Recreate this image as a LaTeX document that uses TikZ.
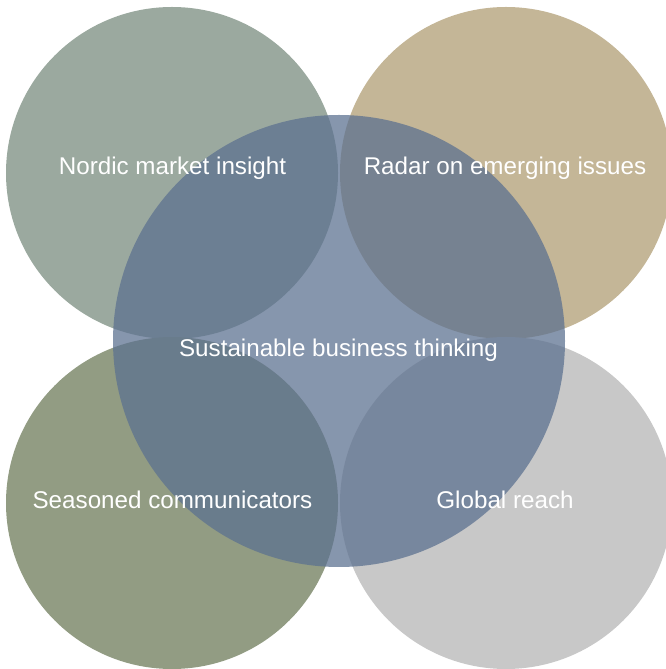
\documentclass[tikz,border=0pt]{standalone}
\usepackage{fontspec}
\setmainfont{Liberation Sans}
\definecolor{cTL}{HTML}{9BA99F}
\definecolor{cTR}{HTML}{C4B697}
\definecolor{cBL}{HTML}{929C83}
\definecolor{cBR}{HTML}{C8C8C8}
\definecolor{cMid}{HTML}{5C7190}
\begin{document}
\begin{tikzpicture}[x=1pt,y=1pt,
  petal/.style={circle,minimum size=332pt,inner sep=0pt,draw=none},
  core/.style={circle,minimum size=452pt,inner sep=0pt,draw=none,fill=cMid,fill opacity=0.74},
  lbl/.style={text=white,font=\fontsize{24.2}{29}\selectfont,inner sep=0pt}]
\useasboundingbox (0,0) rectangle (666,669);
\node[petal,fill=cTL] (tl) at (172,496) {};
\node[petal,fill=cTR] (tr) at (506,496) {};
\node[petal,fill=cBL] (bl) at (172,166) {};
\node[petal,fill=cBR] (br) at (506,166) {};
\node[core] (mid) at (339,328) {};
\node[lbl] (ltl) at (172.5,501) {Nordic market insight};
\node[lbl] (ltr) at (505,501) {Radar on emerging issues};
\node[lbl] (lmid) at (338.5,319) {Sustainable business thinking};
\node[lbl] (lbl) at (172.5,169) {Seasoned communicators};
\node[lbl] (lbr) at (505,169) {Global reach};
\end{tikzpicture}
\end{document}
